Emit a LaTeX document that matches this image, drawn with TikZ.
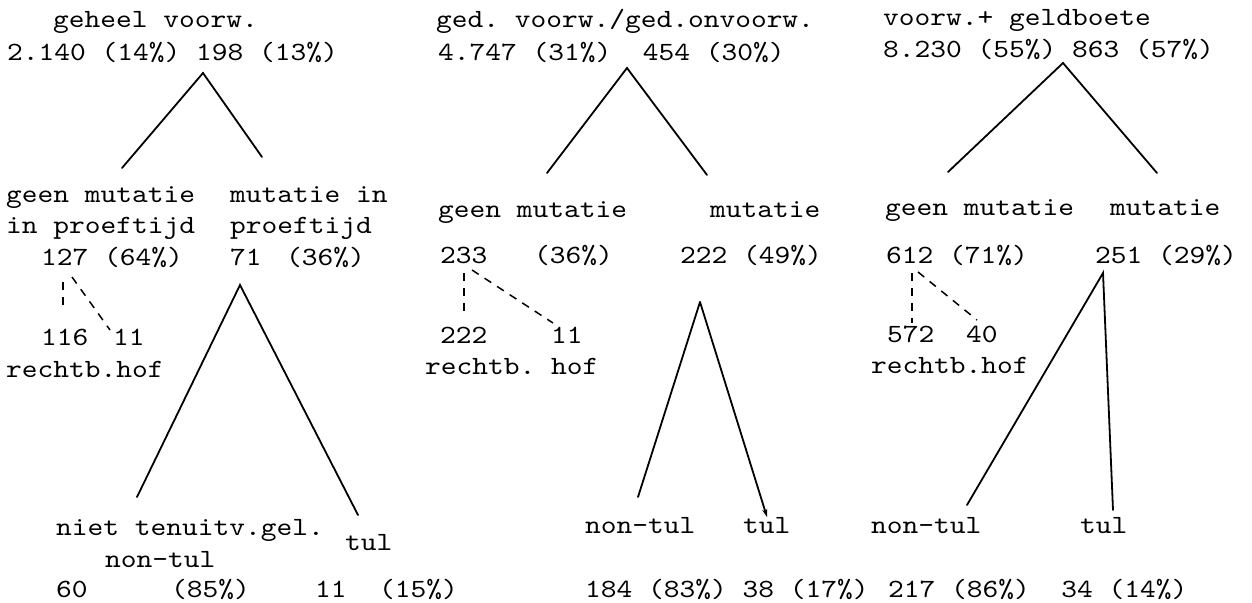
\documentclass[tikz,border=0pt]{standalone}
\usepackage{fontspec}
\setmonofont{lmmono10-regular.otf}[FakeStretch=1.14]
\usetikzlibrary{arrows.meta}
\tikzset{
  lbl/.style={anchor=base west, inner sep=0pt, font=\ttfamily\fontsize{26.3}{30}\selectfont},
  branch/.style={line width=1.8pt, line cap=round},
  dashbranch/.style={line width=1.5pt, dash pattern=on 8pt off 7pt},
}
\begin{document}
\begin{tikzpicture}[x=1pt, y=-1pt]
\useasboundingbox (0,0) rectangle (1252,602);
% ---------- tree 1 ----------
\node[lbl] (t1a) at (53,28) {geheel voorw.};
\node[lbl] (t1b) at (7,60) {2.140 (14\%) 198 (13\%)};
\coordinate (a1) at (203,73);
\coordinate (a1l) at (122,168);
\coordinate (a1r) at (262,157);
\draw[branch] (a1l) -- (a1) -- (a1r);
\node[lbl] (n1a) at (6,202) {geen mutatie};
\node[lbl] (n1b) at (6,233) {in proeftijd};
\node[lbl] (n1c) at (41,265) {127 (64\%)};
\node[lbl] (m1a) at (230,202) {mutatie in};
\node[lbl] (m1b) at (230,233) {proeftijd};
\node[lbl] (m1c) at (230,265) {71};
\node[lbl] (m1d) at (286,265) {(36\%)};
\coordinate (d1a) at (63,282);
\coordinate (d1b) at (63,310);
\coordinate (d1c) at (72,277);
\coordinate (d1d) at (110,330);
\draw[dashbranch] (d1a) -- (d1b);
\draw[dashbranch] (d1c) -- (d1d);
\node[lbl] (r1a) at (41,345) {116};
\node[lbl] (r1b) at (113,345) {11};
\node[lbl] (r1c) at (6,377) {rechtb.hof};
\coordinate (b1) at (240,285);
\coordinate (b1l) at (137,497);
\coordinate (b1r) at (358,515);
\draw[branch] (b1l) -- (b1) -- (b1r);
\node[lbl] (s1a) at (56,535) {niet tenuitv.gel.};
\node[lbl] (s1b) at (105,567) {non-tul};
\node[lbl] (s1c) at (345,550) {tul};
\node[lbl] (f1a) at (56,597) {60};
\node[lbl] (f1b) at (171,597) {(85\%)};
\node[lbl] (f1c) at (315,597) {11};
\node[lbl] (f1d) at (379,597) {(15\%)};
% ---------- tree 2 ----------
\node[lbl] (t2a) at (436,28) {ged. voorw./ged.onvoorw.};
\node[lbl] (t2b) at (438,60) {4.747 (31\%)\ \ 454 (30\%)};
\coordinate (a2) at (627,68);
\coordinate (a2l) at (547,173);
\coordinate (a2r) at (707,175);
\draw[branch] (a2l) -- (a2) -- (a2r);
\node[lbl] (n2a) at (438,217) {geen mutatie};
\node[lbl] (m2a) at (710,217) {mutatie};
\node[lbl] (n2c) at (440,263) {233};
\node[lbl] (n2d) at (534,263) {(36\%)};
\node[lbl] (m2c) at (680,263) {222 (49\%)};
\coordinate (d2a) at (464,273);
\coordinate (d2b) at (464,317);
\coordinate (d2c) at (472,270);
\coordinate (d2d) at (553,323);
\draw[dashbranch] (d2a) -- (d2b);
\draw[dashbranch] (d2c) -- (d2d);
\node[lbl] (r2a) at (440,343) {222};
\node[lbl] (r2b) at (551,343) {11};
\node[lbl] (r2c) at (425,374) {rechtb. hof};
\coordinate (b2) at (700,302);
\coordinate (b2l) at (638,497);
\coordinate (b2r) at (767,517);
\draw[branch] (b2l) -- (b2);
\draw[branch, -{Stealth[length=8pt,width=5pt]}] (b2) -- (b2r);
\node[lbl] (s2a) at (585,533) {non-tul};
\node[lbl] (s2b) at (743,533) {tul};
\node[lbl] (f2a) at (585,597) {184 (83\%) 38 (17\%)};
% ---------- tree 3 ----------
\node[lbl] (t3a) at (883,26) {voorw.+ geldboete};
\node[lbl] (t3b) at (883,57) {8.230 (55\%) 863 (57\%)};
\coordinate (a3) at (1063,63);
\coordinate (a3l) at (948,172);
\coordinate (a3r) at (1157,173);
\draw[branch] (a3l) -- (a3) -- (a3r);
\node[lbl] (n3a) at (885,215) {geen mutatie};
\node[lbl] (m3a) at (1110,215) {mutatie};
\node[lbl] (n3c) at (886,263) {612 (71\%)};
\node[lbl] (m3c) at (1095,263) {251 (29\%)};
\coordinate (d3a) at (912,273);
\coordinate (d3b) at (912,323);
\coordinate (d3c) at (918,272);
\coordinate (d3d) at (977,320);
\draw[dashbranch] (d3a) -- (d3b);
\draw[dashbranch] (d3c) -- (d3d);
\node[lbl] (r3a) at (887,342) {572};
\node[lbl] (r3b) at (966,342) {40};
\node[lbl] (r3c) at (871,373) {rechtb.hof};
\coordinate (b3) at (1103,273);
\coordinate (b3l) at (967,505);
\coordinate (b3r) at (1113,510);
\draw[branch] (b3l) -- (b3) -- (b3r);
\node[lbl] (s3a) at (871,533) {non-tul};
\node[lbl] (s3b) at (1080,533) {tul};
\node[lbl] (f3a) at (888,597) {217 (86\%)\ \ 34 (14\%)};
\end{tikzpicture}
\end{document}
